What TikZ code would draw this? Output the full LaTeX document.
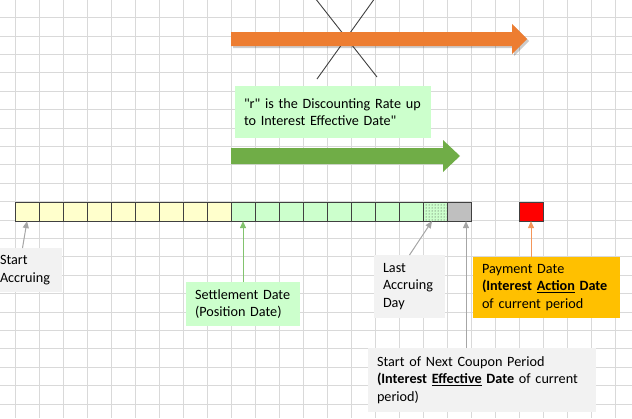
\documentclass[tikz,border=0pt]{standalone}
\usepackage{fontspec}
\setmainfont{Carlito}
\usetikzlibrary{arrows.meta,patterns}

\definecolor{gridgray}{RGB}{217,217,217}
\definecolor{cellyellow}{RGB}{255,255,204}
\definecolor{cellgreen}{RGB}{204,255,204}
\definecolor{cellgray}{RGB}{191,191,191}
\definecolor{boxgray}{RGB}{242,242,242}
\definecolor{boxorange}{RGB}{255,192,0}
\definecolor{bigorange}{RGB}{237,125,49}
\definecolor{biggreen}{RGB}{112,173,71}
\definecolor{ptrgray}{RGB}{166,166,166}
\definecolor{ptrgreen}{RGB}{130,195,110}
\definecolor{ptrorange}{RGB}{244,150,90}

\tikzset{
  gridline/.style={gridgray, line width=1pt},
  cell/.style={draw=black!75, line width=0.8pt, minimum width=24pt,
    minimum height=18.4pt, inner sep=0pt, outer sep=0pt},
  lbl/.style={rectangle, anchor=north west, align=left, inner xsep=9pt,
    inner ysep=4pt, outer sep=0pt,
    font=\fontsize{14.2}{17.5}\selectfont},
  ptr/.style={-{Triangle[length=7pt,width=6pt]}, line width=1pt}
}

\begin{document}
\begin{tikzpicture}[x=1pt, y=-1pt]

    % Page frame
    \useasboundingbox (0,0) rectangle (632,418);
    \clip (0,0) rectangle (632,418);

    % Background grid
    \foreach \k in {0,...,25}
      \draw[gridline] ({15+24*\k},0) -- ({15+24*\k},418);
    \foreach \k in {1,...,22}
      \draw[gridline] (0,{-0.7+18.4*\k}) -- (632,{-0.7+18.4*\k});

    % Crossed out line
    \draw[black!75, line width=0.9pt] (315,-2) -- (377,77);
    \draw[black!75, line width=0.9pt] (375,-2) -- (317,79);

    % Big orange arrow (with shadow)
    \fill[black, opacity=0.2] (233,34) -- (514,34) -- (514,26) -- (529,41)
      -- (514,56) -- (514,48) -- (233,48) -- cycle;
    \fill[bigorange] (231,32) -- (512,32) -- (512,24) -- (527,39)
      -- (512,54) -- (512,46) -- (231,46) -- cycle;

    % Discounting rate note
    \node[lbl, fill=cellgreen, text width=178pt, minimum height=52pt]
      (rate) at (235,86) {\mbox{\textquotedbl r\textquotedbl{} is the Discounting Rate up}\\
        \mbox{to Interest Effective Date\textquotedbl}};

    % Big green arrow
    \fill[biggreen] (231,148) -- (443,148) -- (443,140) -- (460,156)
      -- (443,172) -- (443,164) -- (231,164) -- cycle;

    % Accrual days
    \foreach \i in {1,...,9}
      \node[cell, fill=cellyellow] (c\i) at ({27+24*(\i-1)},211.9) {};
    \foreach \i in {10,...,17}
      \node[cell, fill=cellgreen] (c\i) at ({27+24*(\i-1)},211.9) {};
    \node[cell, fill=cellgreen, postaction={pattern=dots, pattern color=black!80}]
      (c18) at (435,211.9) {};
    \node[cell, fill=cellgray] (c19) at (459,211.9) {};
    \node[cell, fill=red] (pay) at (531,211.9) {};
    \coordinate (effdate) at ([xshift=7pt]c19.south);

    % Labels
    \node[lbl, fill=boxgray, text width=53pt, minimum height=44pt]
      (sa) at (-9,248) {Start\\Accruing};
    \node[lbl, fill=cellgreen, text width=96pt, minimum height=44pt]
      (set) at (186,282) {\mbox{Settlement Date}\\\mbox{(Position Date)}};
    \node[lbl, fill=boxgray, text width=53pt, minimum height=63pt]
      (lad) at (374,255) {Last\\Accruing\\Day};
    \node[lbl, fill=boxorange, text width=129pt, minimum height=61pt]
      (pd) at (473,257) {\mbox{Payment Date}\\\mbox{\textbf{(Interest \underline{Action} Date}}\\
        \mbox{of current period}};
    \node[lbl, fill=boxgray, text width=210pt, minimum height=64pt]
      (snc) at (368,348) {\mbox{Start of Next Coupon Period}\\
        \mbox{\textbf{(Interest \underline{Effective} Date} of current}\\period)};

    % Pointers
    \draw[ptr, ptrgray] ([xshift=-4pt]sa.north) -- (c1.south);
    \draw[ptr, ptrgreen] (set.north) -- (c10.south);
    \draw[ptr, ptrgray] (lad.north) -- ([xshift=-3pt]c18.south);
    \draw[ptr, ptrgray] (snc.north -| effdate) -- (effdate);
    \draw[ptr, ptrorange] (pd.north -| pay) -- (pay.south);

\end{tikzpicture}
\end{document}
